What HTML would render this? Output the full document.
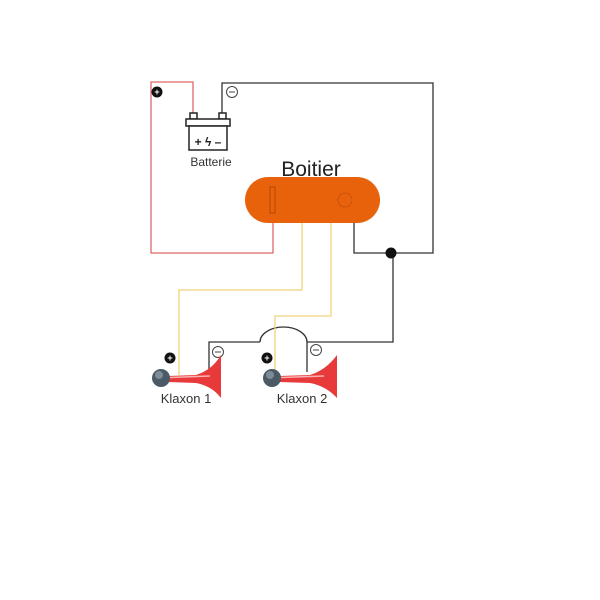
<!DOCTYPE html>
<html><head><style>body{margin:0;background:#fff}svg{display:block}</style></head><body>
<svg width="600" height="600" viewBox="0 0 600 600" font-family="'Liberation Sans',sans-serif">
<rect width="600" height="600" fill="#fff"/>
<!-- red wire -->
<polyline points="193,113 193,82 151,82 151,253 273,253 273,222" fill="none" stroke="#e06666" stroke-width="1.3"/>
<!-- black wire -->
<polyline points="222,113 222,83 433,83 433,253 354,253 354,222" fill="none" stroke="#333" stroke-width="1.3"/>
<polyline points="393,253 393,342 307,342" fill="none" stroke="#333" stroke-width="1.3"/>
<path d="M307,342 A23.5,15 0 0 0 260,342" fill="none" stroke="#333" stroke-width="1.3"/>
<polyline points="260,342 209,342 209,378" fill="none" stroke="#333" stroke-width="1.3"/>
<line x1="307" y1="342" x2="307" y2="372" stroke="#333" stroke-width="1.3"/>
<circle cx="391" cy="253" r="5.5" fill="#111"/>
<!-- yellow -->
<polyline points="302,222 302,290 179,290 179,375" fill="none" stroke="#eed27a" stroke-width="1.3"/>
<polyline points="331,222 331,316 275,316 275,375" fill="none" stroke="#eed27a" stroke-width="1.3"/>
<!-- box -->
<rect x="245" y="177" width="135" height="46" rx="23" fill="#e8620c"/>
<rect x="270" y="187" width="5" height="26" fill="none" stroke="#a84408" stroke-width="0.8"/>
<circle cx="345" cy="200" r="7" fill="none" stroke="#c4500a" stroke-width="0.8"/>
<text x="311" y="176" font-size="21" text-anchor="middle" fill="#222">Boitier</text>
<!-- battery -->
<g stroke="#222" stroke-width="1.5" fill="#fff">
<rect x="190" y="113" width="7" height="6"/><rect x="219" y="113" width="7" height="6"/>
<rect x="186" y="119" width="44" height="7"/>
<rect x="189" y="126" width="38" height="24"/>
</g>
<text x="208" y="146" font-size="12" text-anchor="middle" font-weight="bold" fill="#222">+ ϟ –</text>
<text x="211" y="166" font-size="12" text-anchor="middle" fill="#333">Batterie</text>
<!-- terminals labels -->
<circle cx="157" cy="92" r="5.5" fill="#111"/><text x="157" y="95" font-size="9" fill="#fff" text-anchor="middle" font-weight="bold">+</text>
<circle cx="232" cy="92" r="5.5" fill="#fff" stroke="#444"/><line x1="229" y1="92" x2="235" y2="92" stroke="#444"/>
<circle cx="170" cy="358" r="5.5" fill="#111"/><text x="170" y="361" font-size="9" fill="#fff" text-anchor="middle" font-weight="bold">+</text>
<circle cx="218" cy="352" r="5.5" fill="#fff" stroke="#444"/><line x1="215" y1="352" x2="221" y2="352" stroke="#444"/>
<circle cx="267" cy="358" r="5.5" fill="#111"/><text x="267" y="361" font-size="9" fill="#fff" text-anchor="middle" font-weight="bold">+</text>
<circle cx="316" cy="350" r="5.5" fill="#fff" stroke="#444"/><line x1="313" y1="350" x2="319" y2="350" stroke="#444"/>
<!-- horns -->
<g>
<path d="M168,376 L196,375 Q212,370 221,355 L221,398 Q212,386 196,383 L168,382 Z" fill="#e83a3a"/>
<line x1="170" y1="377.5" x2="210" y2="376" stroke="#f8b0b0" stroke-width="1.5"/>
<circle cx="161" cy="378" r="9" fill="#4a5a66"/><circle cx="159" cy="375" r="4" fill="#7d8c96"/>
</g>
<g>
<path d="M279,376 L310,375 Q326,370 337,355 L337,398 Q326,386 310,383 L279,382 Z" fill="#e83a3a"/>
<line x1="281" y1="377.5" x2="324" y2="376" stroke="#f8b0b0" stroke-width="1.5"/>
<circle cx="272" cy="378" r="9" fill="#4a5a66"/><circle cx="270" cy="375" r="4" fill="#7d8c96"/>
</g>
<text x="186" y="403" font-size="13" text-anchor="middle" fill="#333">Klaxon 1</text>
<text x="302" y="403" font-size="13" text-anchor="middle" fill="#333">Klaxon 2</text>
</svg>
</body></html>
